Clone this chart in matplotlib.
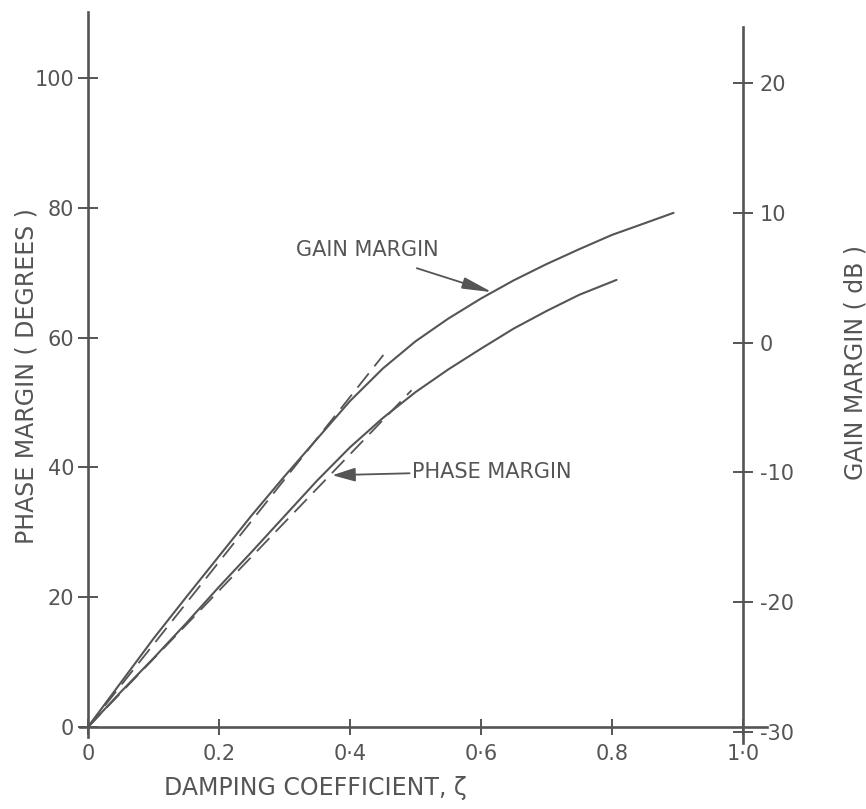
import matplotlib
matplotlib.use('Agg')
import matplotlib.pyplot as plt

# ---------------- data ----------------
gm_zeta = [0, 0.05, 0.1, 0.15, 0.2, 0.25, 0.3, 0.35, 0.4, 0.45, 0.5, 0.55,
           0.6, 0.65, 0.7, 0.75, 0.8, 0.85, 0.894]
gm_db = [-29.6, -26.2, -22.8, -19.6, -16.45, -13.3, -10.3, -7.4, -4.5, -2.0,
         0.1, 1.85, 3.4, 4.8, 6.05, 7.2, 8.3, 9.2, 10.0]

pm_zeta = [0, 0.05, 0.1, 0.15, 0.2, 0.25, 0.3, 0.35, 0.4, 0.45, 0.5, 0.55,
           0.6, 0.65, 0.7, 0.75, 0.807]
pm_deg = [0, 5.4, 10.6, 16.0, 21.6, 27.0, 32.5, 38.0, 43.1, 47.6, 51.6, 55.1,
          58.3, 61.4, 64.1, 66.6, 68.9]

gm_approx_zeta = [0, 0.451]
gm_approx_db = [-29.6, -0.95]
pm_approx_zeta = [0, 0.494]
pm_approx_deg = [0, 51.9]

x_ticks = [0, 0.2, 0.4, 0.6, 0.8, 1.0]
x_labels = ['0', '0.2', '0·4', '0·6', '0.8', '1·0']
pm_ticks = [0, 20, 40, 60, 80, 100]
pm_labels = ['0', '20', '40', '60', '80', '100']
gm_ticks = [-30, -20, -10, 0, 10, 20]
gm_labels = ['-30', '-20', '-10', '0', '10', '20']

# ---------------- styling ----------------
INK = '#555555'
plt.rcParams['font.family'] = ['DejaVu Sans']

fig = plt.figure(figsize=(8.66, 8.09), dpi=100)
fig.patch.set_facecolor('white')
ax = fig.add_axes([0.02598, 0.0612, 0.9076, 0.9386])
ax.set_xlim(-0.1, 1.1)
ax.set_ylim(-5, 112)
ax.patch.set_alpha(0)

ax2 = ax.twinx()
ax2.set_ylim(-32.115, 26.385)

for s in ['top', 'right']:
    ax.spines[s].set_visible(False)
for s in ['top', 'left', 'bottom']:
    ax2.spines[s].set_visible(False)

ax.spines['left'].set_position(('data', 0))
ax.spines['left'].set_bounds(-1.5, 110.2)
ax.spines['bottom'].set_position(('data', 0))
ax.spines['bottom'].set_bounds(-0.012, 1.037)
ax2.spines['right'].set_position(('data', 1.0))
ax2.spines['right'].set_bounds(-30.85, 24.3)
for sp in [ax.spines['left'], ax.spines['bottom'], ax2.spines['right']]:
    sp.set_color(INK)
    sp.set_linewidth(1.9)

ax.set_xticks(x_ticks)
ax.set_xticklabels(x_labels)
ax.set_yticks(pm_ticks)
ax.set_yticklabels(pm_labels)
ax2.set_yticks(gm_ticks)
ax2.set_yticklabels(gm_labels)

ax.tick_params(axis='x', direction='inout', length=11, width=1.4, color=INK,
               labelcolor=INK, labelsize=15, pad=7)
ax.tick_params(axis='y', direction='inout', length=14, width=1.4, color=INK,
               labelcolor=INK, labelsize=15, pad=3)
ax2.tick_params(axis='y', direction='inout', length=14, width=1.4, color=INK,
                labelcolor=INK, labelsize=15, pad=5)

# ---------------- curves ----------------
ax2.plot(gm_zeta, gm_db, color=INK, lw=1.5, solid_capstyle='round',
         solid_joinstyle='round')
ax.plot(pm_zeta, pm_deg, color=INK, lw=1.5, solid_capstyle='round',
        solid_joinstyle='round')
ax2.plot(gm_approx_zeta, gm_approx_db, color=INK, lw=1.3, linestyle=(0, (10, 5)))
ax.plot(pm_approx_zeta, pm_approx_deg, color=INK, lw=1.3, linestyle=(0, (10, 5)))

# ---------------- annotations ----------------
ax.text(0.427, 73.5, 'GAIN MARGIN', ha='center', va='center',
        fontsize=15, color=INK)
ax.annotate('', xy=(0.617, 67.0), xytext=(0.502, 70.7),
            arrowprops=dict(arrowstyle='-|>,head_length=1.3,head_width=0.25',
                            color=INK, lw=1.3, shrinkA=0, shrinkB=0,
                            mutation_scale=14))
ax.text(0.494, 39.3, 'PHASE MARGIN', ha='left', va='center',
        fontsize=15, color=INK)
ax.annotate('', xy=(0.373, 38.8), xytext=(0.491, 39.1),
            arrowprops=dict(arrowstyle='-|>,head_length=1.0,head_width=0.3',
                            color=INK, lw=1.3, shrinkA=0, shrinkB=0,
                            mutation_scale=14))

# ---------------- axis titles ----------------
fig.text(27 / 866, 1 - 376 / 809, 'PHASE MARGIN ( DEGREES )', rotation=90,
         ha='center', va='center', fontsize=17, color=INK)
fig.text(855 / 866, 1 - 362 / 809, 'GAIN MARGIN ( dB )', rotation=90,
         ha='center', va='center', fontsize=17, color=INK)
fig.text(315 / 866, 1 - 788 / 809, 'DAMPING COEFFICIENT, ζ',
         ha='center', va='center', fontsize=17, color=INK)

fig.savefig('out.png', dpi=100, facecolor='white')
